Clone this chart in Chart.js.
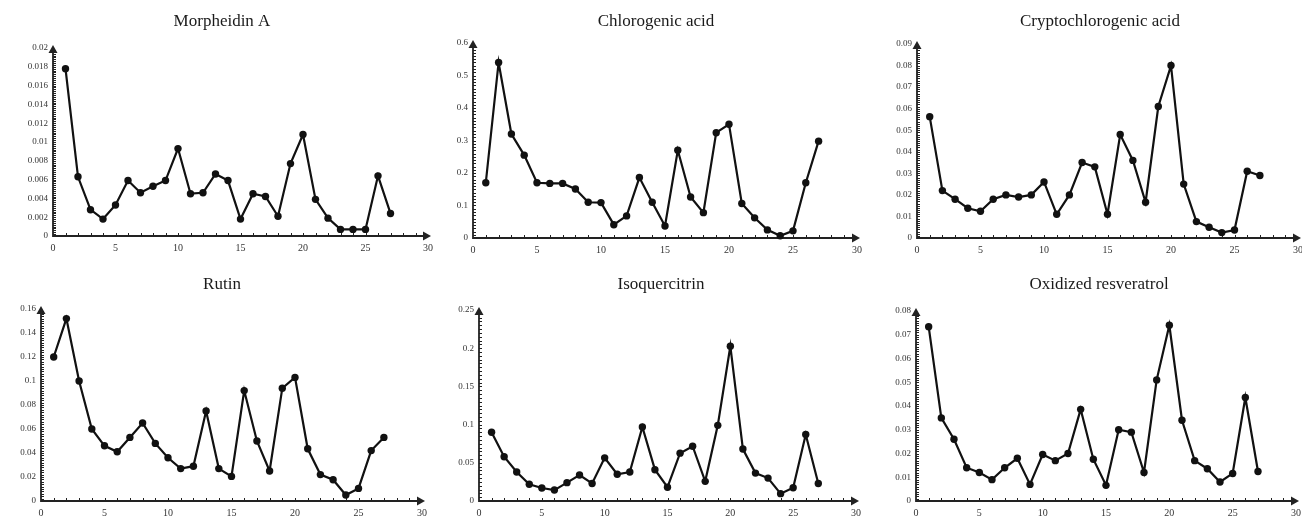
<!DOCTYPE html>
<html><head><meta charset="utf-8">
<script src="https://cdn.jsdelivr.net/npm/chart.js@4"></script>
<style>
html,body{margin:0;padding:0;background:#fff;width:1302px;height:517px;overflow:hidden;position:relative}
.p{position:absolute}
</style></head><body>
<script>
// ---- data ----
const samples = [1,2,3,4,5,6,7,8,9,10,11,12,13,14,15,16,17,18,19,20,21,22,23,24,25,26,27];
const xTicks = [0,5,10,15,20,25,30];
const titles = ['Morpheidin A','Chlorogenic acid','Cryptochlorogenic acid','Rutin','Isoquercitrin','Oxidized resveratrol'];

const morpheidinA = [0.0178,0.0063,0.0028,0.0018,0.0033,0.0059,0.0046,0.0053,0.0059,0.0093,0.0045,0.0046,0.0066,0.0059,0.0018,0.0045,0.0042,0.0021,0.0077,0.0108,0.0039,0.0019,0.0007,0.0007,0.0007,0.0064,0.0024];
const chlorogenicAcid = [0.17,0.54,0.32,0.255,0.17,0.168,0.168,0.151,0.11,0.109,0.041,0.068,0.186,0.11,0.037,0.27,0.126,0.078,0.324,0.35,0.106,0.062,0.025,0.007,0.022,0.17,0.298];
const cryptochlorogenicAcid = [0.0563,0.022,0.018,0.0138,0.0124,0.018,0.020,0.019,0.020,0.026,0.011,0.020,0.035,0.033,0.011,0.048,0.036,0.0166,0.061,0.080,0.025,0.0076,0.005,0.0025,0.0037,0.031,0.029];
const rutin = [0.120,0.152,0.100,0.060,0.046,0.041,0.053,0.065,0.048,0.036,0.027,0.029,0.075,0.027,0.0205,0.092,0.050,0.025,0.094,0.103,0.0435,0.022,0.0177,0.005,0.0105,0.042,0.053];
const isoquercitrin = [0.090,0.058,0.038,0.022,0.017,0.0143,0.024,0.034,0.023,0.0565,0.035,0.038,0.097,0.041,0.018,0.0626,0.0717,0.0257,0.099,0.2026,0.068,0.0365,0.030,0.0096,0.0174,0.087,0.023];
const oxidizedResveratrol = [0.0734,0.035,0.026,0.014,0.012,0.009,0.014,0.018,0.007,0.0196,0.017,0.020,0.0386,0.0176,0.0066,0.030,0.029,0.012,0.051,0.074,0.034,0.017,0.0136,0.008,0.0116,0.0436,0.0124];

const yTicksMorpheidinA = [0,0.002,0.004,0.006,0.008,0.01,0.012,0.014,0.016,0.018,0.02];
const yTicksChlorogenic = [0,0.1,0.2,0.3,0.4,0.5,0.6];
const yTicksCryptochlorogenic = [0,0.01,0.02,0.03,0.04,0.05,0.06,0.07,0.08,0.09];
const yTicksRutin = [0,0.02,0.04,0.06,0.08,0.1,0.12,0.14,0.16];
const yTicksIsoquercitrin = [0,0.05,0.1,0.15,0.2,0.25];
const yTicksOxidized = [0,0.01,0.02,0.03,0.04,0.05,0.06,0.07,0.08];

// ---- layout (pixel boxes of each plot area and title centre, not data) ----
const layoutBoxes = [
  {l:53,  r:428,  t:48,  b:236, ty:22,  tx:222},
  {l:473, r:857,  t:43,  b:238, ty:22,  tx:656},
  {l:917, r:1298, t:44,  b:238, ty:22,  tx:1100},
  {l:41,  r:422,  t:309, b:501, ty:285, tx:222},
  {l:479, r:856,  t:310, b:501, ty:285, tx:661},
  {l:916, r:1296, t:311, b:501, ty:285, tx:1099}
];
const seriesList = [morpheidinA, chlorogenicAcid, cryptochlorogenicAcid, rutin, isoquercitrin, oxidizedResveratrol];
const yTickList = [yTicksMorpheidinA, yTicksChlorogenic, yTicksCryptochlorogenic, yTicksRutin, yTicksIsoquercitrin, yTicksOxidized];

const SERIF = "'Liberation Serif', 'Times New Roman', serif";
const AXIS_COLOR = '#222';
const TITLE_SIZE = 17;
const TITLE_LH = TITLE_SIZE * 1.2;

const axisPlugin = {
  id: 'arrowAxes',
  beforeDatasetsDraw(chart) {
    const ctx = chart.ctx;
    const xs = chart.scales.x, ys = chart.scales.y;
    const yt = chart.options.scales.y._tickValues;
    const x0 = xs.getPixelForValue(0);
    const y0 = ys.getPixelForValue(0);
    const yTop = ys.getPixelForValue(ys.max);
    const xEnd = xs.getPixelForValue(xs.max);
    ctx.save();
    ctx.strokeStyle = AXIS_COLOR;
    ctx.fillStyle = AXIS_COLOR;
    ctx.lineWidth = 1.8;
    ctx.beginPath();
    ctx.moveTo(x0, y0 + 0.9); ctx.lineTo(x0, yTop + 4);
    ctx.moveTo(x0 - 0.9, y0); ctx.lineTo(xEnd - 4, y0);
    ctx.stroke();
    // arrows
    ctx.beginPath();
    ctx.moveTo(x0, yTop - 3); ctx.lineTo(x0 - 4.5, yTop + 5); ctx.lineTo(x0 + 4.5, yTop + 5); ctx.closePath();
    ctx.fill();
    ctx.beginPath();
    ctx.moveTo(xEnd + 3, y0); ctx.lineTo(xEnd - 5, y0 - 4.5); ctx.lineTo(xEnd - 5, y0 + 4.5); ctx.closePath();
    ctx.fill();
    // minor ticks
    ctx.lineWidth = 1;
    ctx.beginPath();
    for (let i = 1; i < xs.max; i++) {
      const x = Math.round(xs.getPixelForValue(i)) + 0.5;
      ctx.moveTo(x, y0); ctx.lineTo(x, y0 - 3);
    }
    const step = (yt[1] - yt[0]) / 10;
    const n = Math.round((ys.max - ys.min) / step);
    for (let k = 1; k < n; k++) {
      const y = Math.round(ys.getPixelForValue(k * step)) + 0.5;
      ctx.moveTo(x0, y); ctx.lineTo(x0 + 3, y);
    }
    ctx.stroke();
    ctx.restore();
  }
};

layoutBoxes.forEach((bx, i) => {
  // title box spans the y-axis box + plot area + right padding; choose sizes so its centre lands on tx
  const chartW = bx.r - bx.l;
  const d = (bx.l + chartW / 2) - bx.tx;
  let pR = 8;
  let wy = Math.round(2 * d + pR);
  if (wy < 29) { wy = 29; pR = Math.round(wy - 2 * d); }
  const xh = 20;
  const divLeft = bx.l - wy;
  const divTop = bx.ty - 15;
  const padTop = bx.ty - divTop - TITLE_LH / 2;
  const padBottom = bx.t - bx.ty - TITLE_LH / 2;
  const w = wy + chartW + pR;
  const h = bx.b - divTop + xh;
  const div = document.createElement('div');
  div.className = 'p';
  div.style.left = divLeft + 'px';
  div.style.top = divTop + 'px';
  div.style.width = w + 'px';
  div.style.height = h + 'px';
  const cv = document.createElement('canvas');
  div.appendChild(cv);
  document.body.appendChild(div);

  const vals = seriesList[i];
  const yt = yTickList[i];
  new Chart(cv, {
    type: 'line',
    data: {
      datasets: [{
        data: samples.map((x, k) => ({x: x, y: vals[k]})),
        borderColor: '#111',
        borderWidth: 2.2,
        pointRadius: 3.7,
        pointHoverRadius: 3.7,
        pointBackgroundColor: '#111',
        pointBorderColor: '#111',
        pointBorderWidth: 0,
        tension: 0,
        clip: false
      }]
    },
    options: {
      responsive: true,
      maintainAspectRatio: false,
      animation: false,
      devicePixelRatio: 1,
      events: [],
      layout: {padding: 0},
      plugins: {
        legend: {display: false},
        tooltip: {enabled: false},
        title: {
          display: true,
          text: titles[i],
          color: '#1a1a1a',
          font: {family: SERIF, size: TITLE_SIZE, weight: 'normal', lineHeight: 1.2},
          padding: {top: padTop, bottom: padBottom}
        }
      },
      scales: {
        x: {
          type: 'linear',
          min: 0, max: 30,
          afterBuildTicks: s => { s.ticks = xTicks.map(v => ({value: v})); },
          afterFit: s => { s.height = xh; s.paddingRight = pR; },
          grid: {display: false, drawTicks: false},
          border: {display: false},
          ticks: {padding: 6, color: '#333', autoSkip: false, maxRotation: 0,
                  font: {family: SERIF, size: 10}}
        },
        y: {
          type: 'linear',
          min: yt[0], max: yt[yt.length - 1],
          _tickValues: yt,
          afterBuildTicks: s => { s.ticks = yt.map(v => ({value: v})); },
          afterFit: s => { s.width = wy; },
          grid: {display: false, drawTicks: false},
          border: {display: false},
          ticks: {padding: 5, color: '#333', autoSkip: false,
                  font: {family: SERIF, size: 9},
                  callback: v => String(+Number(v).toFixed(6))}
        }
      }
    },
    plugins: [axisPlugin]
  });
});
</script>
</body></html>
